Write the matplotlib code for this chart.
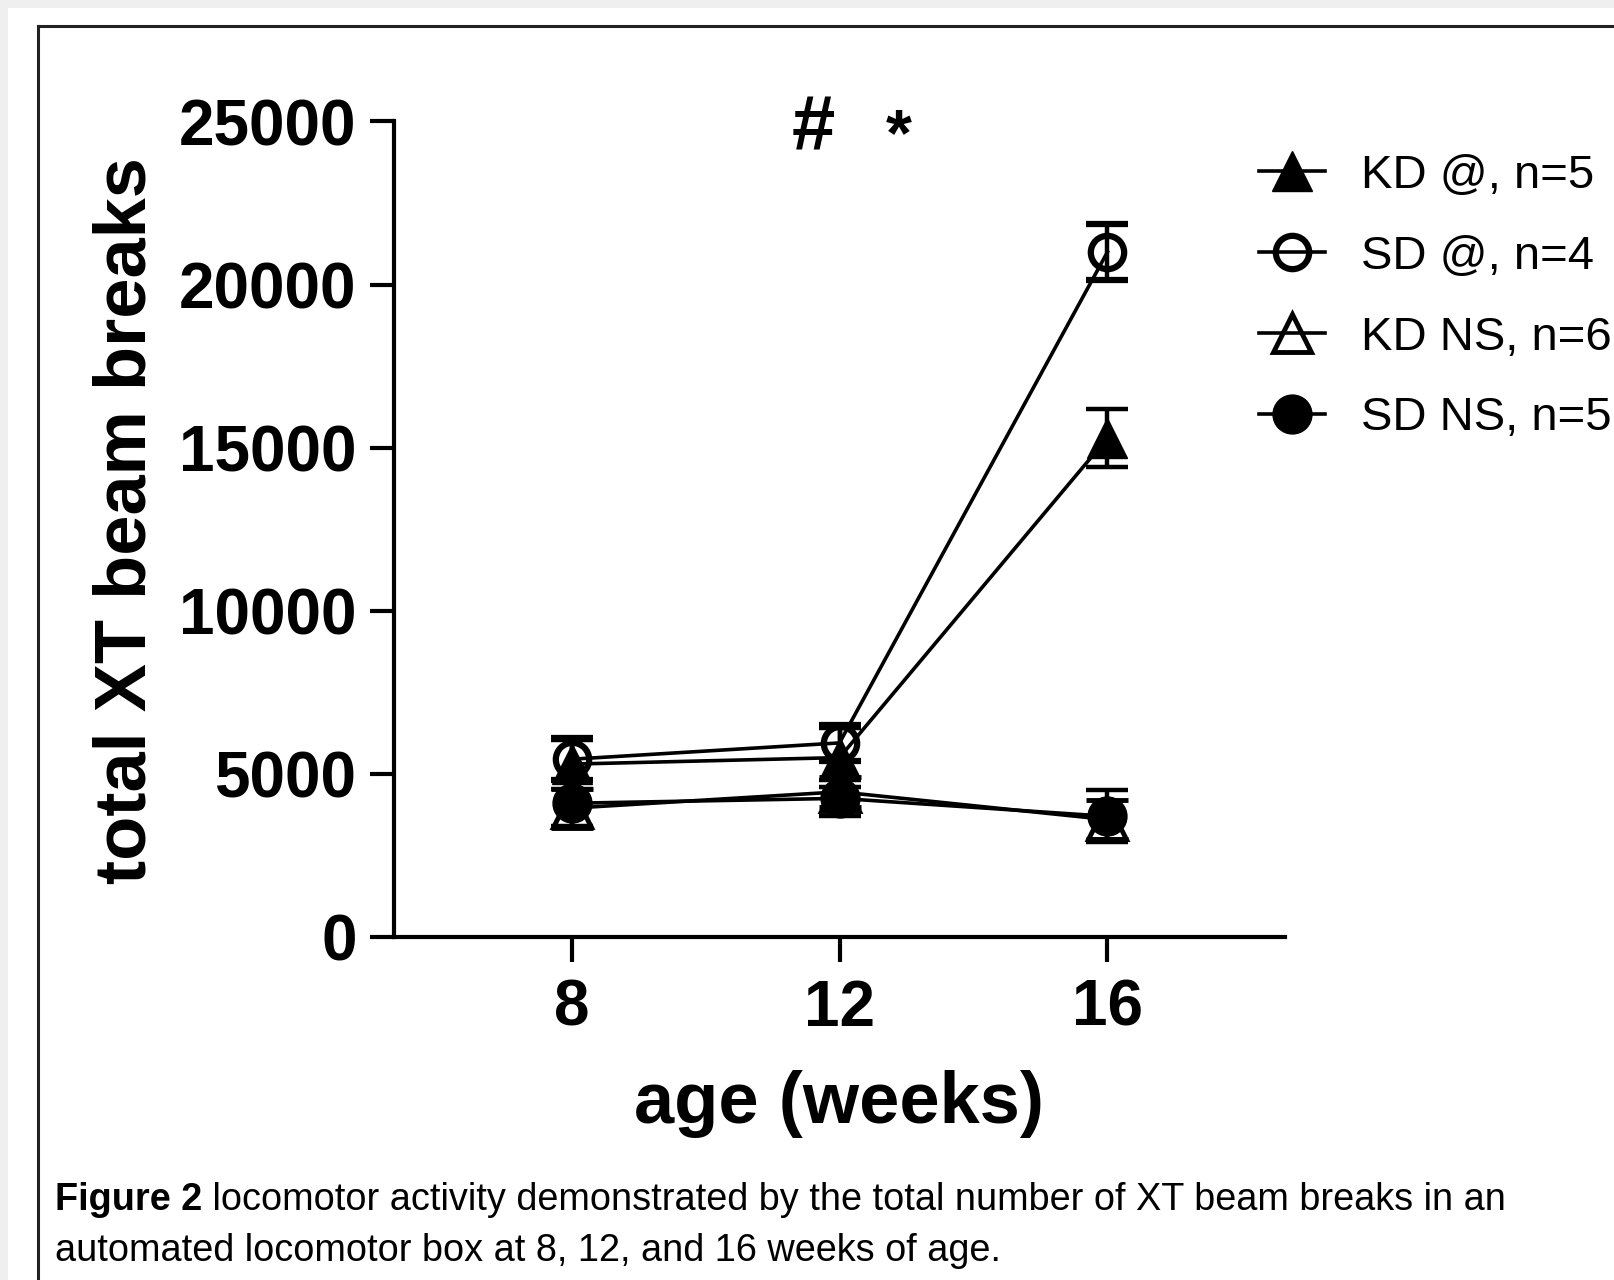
import matplotlib
matplotlib.use("Agg")
import matplotlib.pyplot as plt
import matplotlib.patches as mpatches

plt.rcParams['font.family'] = ['Liberation Sans', 'DejaVu Sans']

# Data (mean +/- SEM)
weeks = [8, 12, 16]
kd_at = [5300, 5500, 15300]
kd_at_err = [750, 900, 900]
sd_at = [5450, 5950, 21000]
sd_at_err = [650, 550, 850]
kd_ns = [3950, 4450, 3600]
kd_ns_err = [600, 450, 600]
sd_ns = [4100, 4250, 3700]
sd_ns_err = [700, 550, 800]

labels = ['KD @, n=5', 'SD @, n=4', 'KD NS, n=6', 'SD NS, n=5']
yticks = [0, 5000, 10000, 15000, 20000, 25000]
xticks = [8, 12, 16]
caption_bold = 'Figure 2'
caption_rest = ' locomotor activity demonstrated by the total number of XT beam breaks in an'
caption_line2 = 'automated locomotor box at 8, 12, and 16 weeks of age.'

W, H = 1614, 1280
fig = plt.figure(figsize=(W / 100, H / 100), dpi=100, facecolor='#efefef')

# white page and the box frame
fig.patches.append(mpatches.Rectangle((8 / W, 0), 1, 1 - 8 / H, transform=fig.transFigure,
                                      facecolor='white', edgecolor='none', zorder=-5))
fig.add_artist(plt.Line2D([38 / W, 1], [1 - 26 / H, 1 - 26 / H], color='#222222', lw=2.2))
fig.add_artist(plt.Line2D([38 / W, 38 / W], [0, 1 - 26 / H], color='#222222', lw=2.2))

ax = fig.add_axes([394 / W, 1 - 937 / H, (1285 - 394) / W, (937 - 121.5) / H])
ax.set_facecolor('none')

common = dict(color='black', lw=2.6, capsize=15, capthick=3.2, elinewidth=3.2, clip_on=False)
series = [
    (kd_at, kd_at_err, dict(marker='^', ms=29, mfc='black', mec='black')),
    (sd_at, sd_at_err, dict(marker='o', ms=24, mfc='none', mec='black', mew=4.5)),
    (kd_ns, kd_ns_err, dict(marker='^', ms=28, mfc='none', mec='black', mew=3.5)),
    (sd_ns, sd_ns_err, dict(marker='o', ms=28, mfc='black', mec='black')),
]
handles = []
for (y, e, mk), lab in zip(series, labels):
    h = ax.errorbar(weeks, y, yerr=e, label=lab, **common, **mk)
    handles.append(h[0])

ax.set_xlim(5.35, 18.65)
ax.set_ylim(0, 25000)
ax.set_xticks(xticks)
ax.set_yticks(yticks)
ax.set_xticklabels([str(t) for t in xticks], fontsize=46, fontweight='bold')
ax.set_yticklabels([str(t) for t in yticks], fontsize=46, fontweight='bold')
for s in ['top', 'right']:
    ax.spines[s].set_visible(False)
for s in ['left', 'bottom']:
    ax.spines[s].set_linewidth(3)
ax.tick_params(axis='y', length=17, width=3, pad=10)
ax.tick_params(axis='x', length=18, width=3, pad=12)

ax.set_ylabel('total XT beam breaks', fontsize=52, fontweight='bold')
ax.yaxis.set_label_coords(-0.262, 0.511)
ax.set_xlabel('age (weeks)', fontsize=52, fontweight='bold')
ax.xaxis.set_label_coords(0.5, -0.163)

fig.text(813 / W, 1 - 130 / H, '#', fontsize=56, fontweight='bold', ha='center', va='center')
fig.text(899 / W, 1 - 138 / H, '*', fontsize=48, fontweight='bold', ha='center', va='center')

fig.legend(handles, labels, loc='upper left', bbox_to_anchor=(1259 / W, 1 - 154 / H),
           frameon=False, fontsize=34, handlelength=1.4, handletextpad=0.75,
           labelspacing=0.78, borderpad=0, borderaxespad=0)

t1 = fig.text(55 / W, 1 - 1210 / H, caption_bold, fontsize=27.3, fontweight='bold',
              ha='left', va='baseline')
fig.canvas.draw()
bb = t1.get_window_extent()
fig.text(bb.x1 / W, 1 - 1210 / H, caption_rest, fontsize=27.3, ha='left', va='baseline')
fig.text(55 / W, 1 - 1261 / H, caption_line2, fontsize=27.3, ha='left', va='baseline')

fig.savefig('out.png', dpi=100, facecolor=fig.get_facecolor())
